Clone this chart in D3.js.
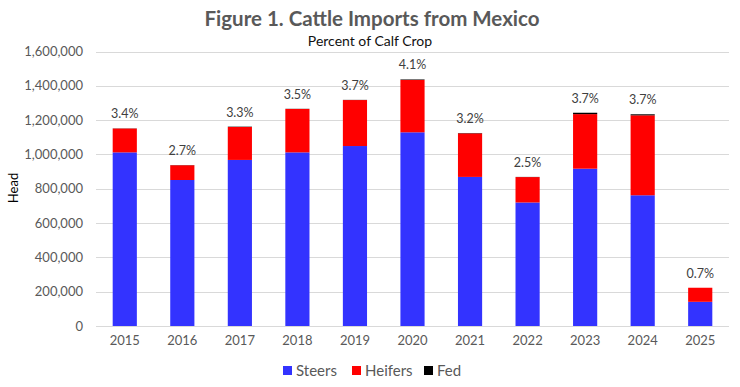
<!DOCTYPE html>
<html>
<head>
<meta charset="utf-8">
<script src="https://cdn.jsdelivr.net/npm/d3@7"></script>
<style>
  body { margin: 0; background: #fff; }
  svg { display: block; }
  text { font-family: "Lato", "Open Sans", sans-serif; }
</style>
</head>
<body>
<svg id="chart" width="740" height="387"></svg>
<script>
const years = ["2015","2016","2017","2018","2019","2020","2021","2022","2023","2024","2025"];
const steers = [1012000, 851000, 968000, 1012000, 1049000, 1129000, 869000, 720000, 917000, 762000, 141000];
const heifers = [139000, 86000, 192000, 253000, 268000, 305000, 254000, 148000, 318000, 466000, 82000];
const fed = [1000, 1000, 2000, 1000, 1000, 3000, 2000, 1000, 8000, 6000, 0];
const pctLabels = ["3.4%","2.7%","3.3%","3.5%","3.7%","4.1%","3.2%","2.5%","3.7%","3.7%","0.7%"];
const yTicks = [0, 200000, 400000, 600000, 800000, 1000000, 1200000, 1400000, 1600000];
const seriesNames = ["Steers", "Heifers", "Fed"];
const colors = ["#3333ff", "#ff0000", "#000000"];

const svg = d3.select("#chart");
const margin = {left: 96, right: 11, top: 51.5, bottom: 61};
const W = 740, H = 387;

const x = d3.scaleBand().domain(years).range([margin.left, W - margin.right]).paddingInner(0.58).paddingOuter(0.29);
const y = d3.scaleLinear().domain([0, 1600000]).range([H - margin.bottom, margin.top]);

// gridlines
svg.append("g").selectAll("line").data(yTicks).join("line")
  .attr("x1", margin.left).attr("x2", W - margin.right)
  .attr("y1", d => Math.round(y(d)) + 0.5).attr("y2", d => Math.round(y(d)) + 0.5)
  .attr("stroke", "#d9d9d9").attr("stroke-width", 1);

// y axis labels
const yAxis = d3.axisLeft(y).tickValues(yTicks).tickSize(0).tickPadding(0).tickFormat(d3.format(","));
const gy = svg.append("g").attr("transform", `translate(${margin.left - 13},0)`).call(yAxis);
gy.select(".domain").remove();
gy.selectAll("text").attr("fill", "#595959").style("font-size", "13px").style("font-family", "Lato, sans-serif");

// x axis labels
const xAxis = d3.axisBottom(x).tickSize(0).tickPadding(0);
const gx = svg.append("g").attr("transform", `translate(0,${H - margin.bottom + 10})`).call(xAxis);
gx.select(".domain").remove();
gx.selectAll("text").attr("fill", "#595959").style("font-size", "13px").style("font-family", "Lato, sans-serif");

// stacked bars
const rows = years.map((yr, i) => ({year: yr, Steers: steers[i], Heifers: heifers[i], Fed: fed[i]}));
const stack = d3.stack().keys(seriesNames)(rows);
svg.append("g").selectAll("g").data(stack).join("g")
  .attr("fill", (d, i) => colors[i])
  .selectAll("rect").data(d => d).join("rect")
  .attr("x", d => x(d.data.year))
  .attr("width", x.bandwidth())
  .attr("y", d => y(d[1]))
  .attr("height", d => Math.max(0, y(d[0]) - y(d[1])));

// percent labels
svg.append("g").selectAll("text").data(rows).join("text")
  .attr("x", d => x(d.year) + x.bandwidth() / 2)
  .attr("y", (d, i) => y(steers[i] + heifers[i] + fed[i]) - 10)
  .attr("text-anchor", "middle")
  .attr("fill", "#404040")
  .style("font-size", "12.5px")
  .text((d, i) => pctLabels[i]);

// title
svg.append("text").attr("x", 372).attr("y", 26).attr("text-anchor", "middle")
  .attr("fill", "#595959").style("font-size", "20.5px").style("font-weight", "bold")
  .text("Figure 1. Cattle Imports from Mexico");
svg.append("text").attr("x", 370).attr("y", 45.5).attr("text-anchor", "middle")
  .attr("fill", "#111").style("font-size", "14px")
  .text("Percent of Calf Crop");

// y axis title
svg.append("text").attr("transform", "translate(18,188) rotate(-90)").attr("text-anchor", "middle")
  .attr("fill", "#000").style("font-size", "13px").text("Head");

// legend
const legendX = [283, 352, 424];
const lg = svg.append("g").selectAll("g").data(seriesNames).join("g")
  .attr("transform", (d, i) => `translate(${legendX[i]},366)`);
lg.append("rect").attr("width", 9).attr("height", 9).attr("fill", (d, i) => colors[i]);
lg.append("text").attr("x", 13).attr("y", 9.5).attr("fill", "#595959").style("font-size", "15px").text(d => d);
</script>
</body>
</html>
